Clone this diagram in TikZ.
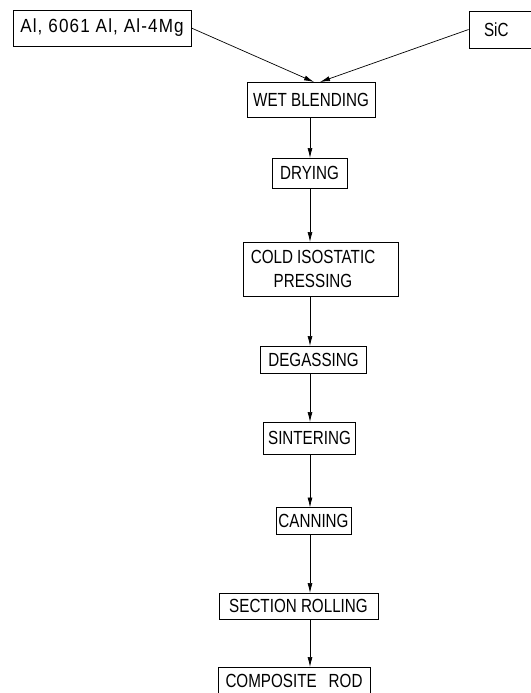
\documentclass[tikz,border=0pt]{standalone}
\usepackage{fontspec}
\setmainfont[FakeStretch=0.8]{Liberation Sans}
\newfontfamily\widefont[FakeStretch=0.9,LetterSpace=6]{Liberation Sans}
\usetikzlibrary{arrows.meta}
\begin{document}
\begin{tikzpicture}[x=1pt,y=-1pt,
  box/.style={draw,line width=0.8pt,inner sep=0pt,font=\fontsize{19}{24}\selectfont},
  flow/.style={line width=0.7pt,-{Latex[length=10pt,width=5pt]}}]
\useasboundingbox (0,0) rectangle (530,693);
\node[box,minimum width=178,minimum height=36] (src) at (102,28) {\widefont Al, 6061 Al, Al-4Mg};
\node[box,minimum width=66,minimum height=37,text width=60,align=left] (sic) at (502,29.5) {\hspace*{12pt}SiC};
\node[box,minimum width=128,minimum height=35] (wet) at (311,99.5) {WET BLENDING};
\node[box,minimum width=75,minimum height=30] (dry) at (309.5,173) {DRYING};
\node[box,minimum width=155,minimum height=54] (cold) at (320.5,269) {};
\node[font=\fontsize{19}{24}\selectfont,align=center,inner sep=0pt] (coldtxt) at (313,269) {COLD ISOSTATIC\\PRESSING};
\node[box,minimum width=106,minimum height=27] (degas) at (313.5,359.5) {DEGASSING};
\node[box,minimum width=92,minimum height=32] (sint) at (309.5,438) {SINTERING};
\node[box,minimum width=75,minimum height=27] (can) at (313.5,521) {CANNING};
\node[box,minimum width=159,minimum height=26] (sect) at (298.5,606) {SECTION ROLLING};
\node[box,minimum width=152,minimum height=28,anchor=north] (rod) at (294,667) {COMPOSITE\hspace{12pt}ROD};
\coordinate (m1) at (314,82);
\coordinate (m2) at (320,82);
\draw[flow] (src.east) -- (m1);
\draw[flow] (sic.west) -- (m2);
\draw[flow] (310,117) -- (310,158);
\draw[flow] (310,188) -- (310,242);
\draw[flow] (310,296) -- (310,346);
\draw[flow] (310,373) -- (310,422);
\draw[flow] (310,454) -- (310,507.5);
\draw[flow] (310,534.5) -- (310,593);
\draw[flow] (310,619) -- (310,667);
\end{tikzpicture}
\end{document}
